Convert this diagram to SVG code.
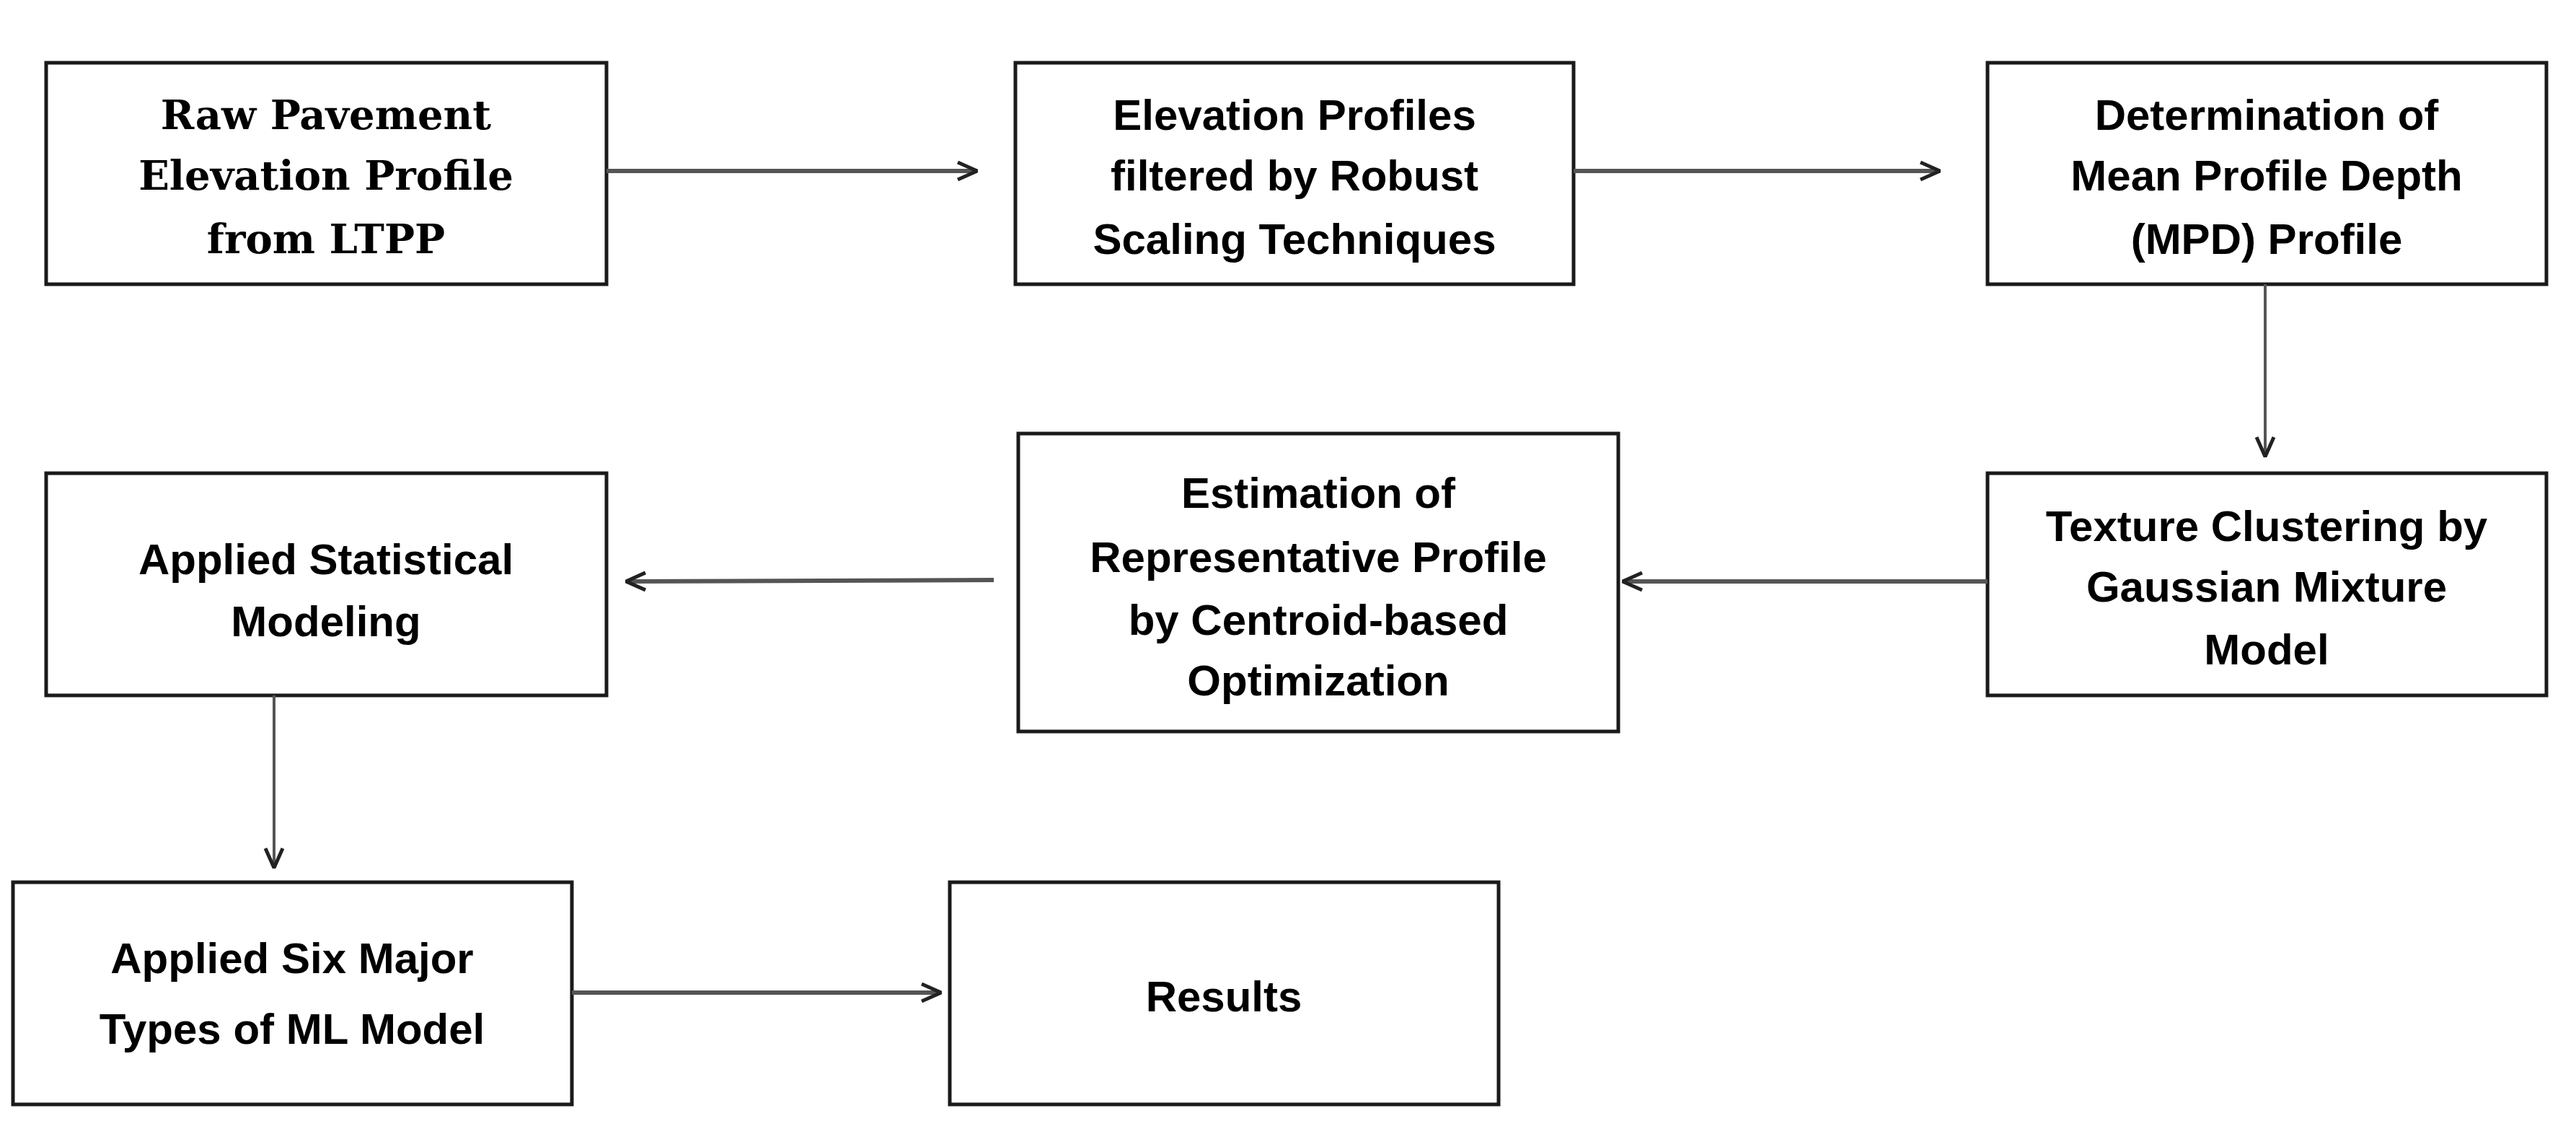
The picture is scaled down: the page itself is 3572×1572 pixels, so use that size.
<svg xmlns="http://www.w3.org/2000/svg" width="3572" height="1572" viewBox="0 0 3572 1572">
<style>
.box{fill:#fff;stroke:#1a1a1a;stroke-width:5}
.t{font-family:"Liberation Sans",Arial,sans-serif;font-weight:bold;font-size:60px;fill:#000;text-anchor:middle;dominant-baseline:central}
.s{font-family:"DejaVu Serif","Liberation Serif",serif;font-weight:bold;font-size:56px;fill:#000;text-anchor:middle;dominant-baseline:central}
.c{stroke:#444;stroke-width:5;fill:none;marker-end:url(#a)}
</style>
<defs><marker id="a" markerWidth="10" markerHeight="10" refX="9" refY="5" orient="auto" markerUnits="userSpaceOnUse" viewBox="0 0 10 10"><path d="M0,0 L10,5 L0,10" fill="none" stroke="#222" stroke-width="0"/></marker>
<marker id="h" viewBox="0 0 30 30" refX="29" refY="15" markerWidth="30" markerHeight="30" orient="auto" markerUnits="userSpaceOnUse"><path d="M2,3 L29,15 L2,27" fill="none" stroke="#222" stroke-width="5"/></marker></defs>
<g id="n1"><rect class="box" x="64" y="87" width="777" height="307"/><text class="s" x="452" y="159">Raw Pavement</text><text class="s" x="452" y="243">Elevation Profile</text><text class="s" x="452" y="331">from LTPP</text></g>
<g id="n2"><rect class="box" x="1408" y="87" width="774" height="307"/><text class="t" x="1795" y="159">Elevation Profiles</text><text class="t" x="1795" y="243">filtered by Robust</text><text class="t" x="1795" y="331">Scaling Techniques</text></g>
<g id="n3"><rect class="box" x="2756" y="87" width="775" height="307"/><text class="t" x="3143" y="159">Determination of</text><text class="t" x="3143" y="243">Mean Profile Depth</text><text class="t" x="3143" y="331">(MPD) Profile</text></g>
<g id="n4"><rect class="box" x="2756" y="656" width="775" height="308"/><text class="t" x="3143" y="729">Texture Clustering by</text><text class="t" x="3143" y="813">Gaussian Mixture</text><text class="t" x="3143" y="900">Model</text></g>
<g id="n5"><rect class="box" x="1412" y="601" width="832" height="413"/><text class="t" x="1828" y="683">Estimation of</text><text class="t" x="1828" y="772">Representative Profile</text><text class="t" x="1828" y="859">by Centroid-based</text><text class="t" x="1828" y="943">Optimization</text></g>
<g id="n6"><rect class="box" x="64" y="656" width="777" height="308"/><text class="t" x="452" y="775">Applied Statistical</text><text class="t" x="452" y="861">Modeling</text></g>
<g id="n7"><rect class="box" x="18" y="1223" width="775" height="308"/><text class="t" x="405" y="1328">Applied Six Major</text><text class="t" x="405" y="1426">Types of ML Model</text></g>
<g id="n8"><rect class="box" x="1317" y="1223" width="761" height="308"/><text class="t" x="1697" y="1381">Results</text></g>
<g id="connectors" stroke="#555" stroke-width="6" fill="none">
<line x1="841" y1="237" x2="1355" y2="237" marker-end="url(#h)"/>
<line x1="2182" y1="237" x2="2690" y2="237" marker-end="url(#h)"/>
<line x1="3141" y1="394" x2="3141" y2="633" stroke-width="4" marker-end="url(#h)"/>
<line x1="2756" y1="806" x2="2250" y2="806" marker-end="url(#h)"/>
<line x1="1378" y1="804" x2="868" y2="806" marker-end="url(#h)"/>
<line x1="380" y1="964" x2="380" y2="1203" stroke-width="4" marker-end="url(#h)"/>
<line x1="793" y1="1376" x2="1305" y2="1376" marker-end="url(#h)"/>
</g>
</svg>
